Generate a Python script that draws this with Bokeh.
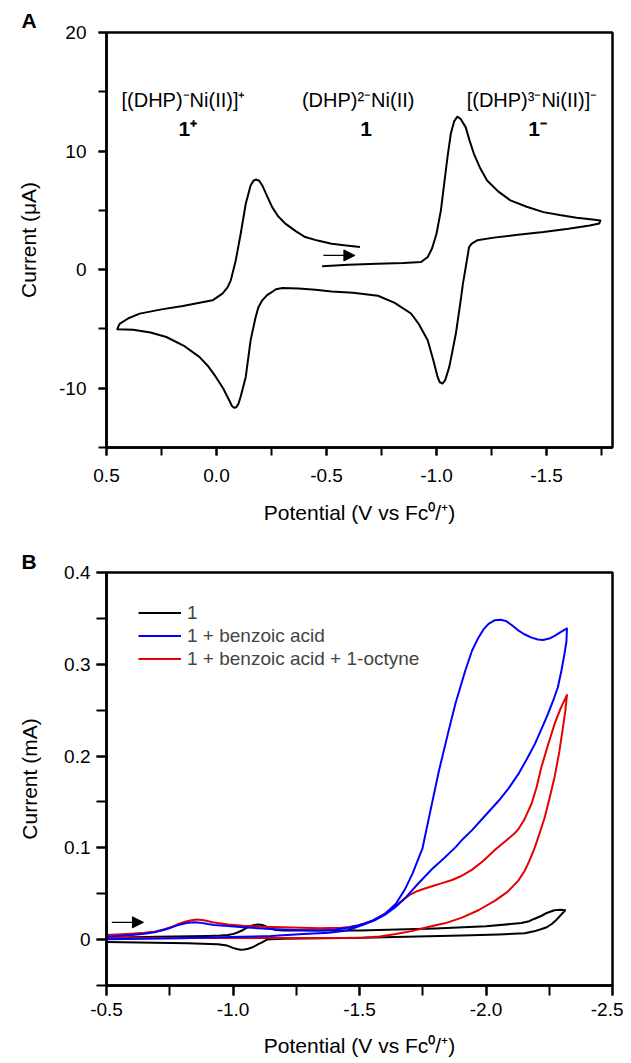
from bokeh.plotting import figure
from bokeh.layouts import column
from bokeh.models import (Range1d, SingleIntervalTicker, NumeralTickFormatter, Label,
                          Arrow, NormalHead, Legend, LegendItem)
from bokeh.embed import file_html
from bokeh.resources import INLINE

FONT = "Liberation Sans"

# ---------------- Panel A data: CV of compound 1 (uA vs V) ----------------
a_potential = [-0.48, -0.60, -0.73, -0.85, -0.93, -0.96, -0.98, -1.00, -1.02, -1.035, -1.05, -1.065,
               -1.08, -1.095, -1.11, -1.133, -1.15, -1.17, -1.20, -1.23, -1.28, -1.336, -1.41, -1.486,
               -1.56, -1.637, -1.70, -1.745, -1.74, -1.697, -1.60, -1.486, -1.37, -1.261, -1.185, -1.16,
               -1.148, -1.14, -1.133, -1.12, -1.11, -1.088, -1.07, -1.058, -1.04, -1.028, -1.015, -1.005,
               -0.985, -0.96, -0.92, -0.884, -0.81, -0.734, -0.62, -0.523, -0.45, -0.373, -0.30, -0.27,
               -0.253, -0.23, -0.208, -0.19, -0.178, -0.155, -0.133, -0.11, -0.10, -0.09, -0.08, -0.07,
               -0.06, -0.03, 0.003, 0.04, 0.078, 0.15, 0.228, 0.30, 0.379, 0.451, 0.445, 0.439, 0.40,
               0.349, 0.25, 0.153, 0.018, -0.027, -0.05, -0.065, -0.0875, -0.11, -0.133, -0.155, -0.168,
               -0.18, -0.194, -0.208, -0.23, -0.253, -0.28, -0.313, -0.36, -0.403, -0.46, -0.523, -0.59,
               -0.652]
a_current = [0.28, 0.42, 0.50, 0.56, 0.64, 1.06, 1.8, 3.03, 5.0, 7.25, 9.5, 11.46,
             12.5, 12.9, 12.7, 12.0, 10.9, 9.77, 8.5, 7.52, 6.6, 5.84, 5.3, 4.85,
             4.6, 4.38, 4.25, 4.15, 3.9, 3.73, 3.45, 3.17, 2.95, 2.7, 2.47, 2.2,
             1.9, 1.0, 0.22, -1.2, -2.59, -5.39, -7.1, -8.2, -9.3, -9.6, -9.5, -9.05,
             -7.6, -5.96, -4.6, -3.7, -2.8, -2.2, -1.95, -1.85, -1.7, -1.6, -1.55, -1.65,
             -1.88, -2.15, -2.59, -3.2, -3.99, -5.96, -9.05, -10.7, -11.3, -11.6, -11.65, -11.5,
             -11.1, -10.0, -9.05, -8.1, -7.36, -6.4, -5.68, -5.3, -5.06, -5.03, -4.75, -4.55, -4.1,
             -3.71, -3.35, -3.06, -2.59, -2.02, -1.5, -0.9, 0.78, 3.03, 5.56, 7.1, 7.5,
             7.6, 7.5, 7.1, 6.2, 5.27, 4.5, 3.88, 3.25, 2.75, 2.45, 2.19, 2.03,
             1.9]

a_species = ["[(DHP)\u207bNi(II)]\u207a", "(DHP)\u00b2\u207bNi(II)", "[(DHP)\u00b3\u207bNi(II)]\u207b"]
a_numbers = ["1\u207a", "1", "1\u207b"]

# ---------------- Panel B data (mA vs V) ----------------
b_labels = ["1", "1 + benzoic acid", "1 + benzoic acid + 1-octyne"]

black_potential = [-0.50, -0.70, -0.90, -0.95, -0.98, -1.00, -1.02, -1.04, -1.055, -1.07, -1.085,
                   -1.10, -1.115, -1.13, -1.147, -1.17, -1.20, -1.50, -1.80, -2.00, -2.14, -2.17,
                   -2.19, -2.22, -2.24, -2.27, -2.295, -2.313, -2.30, -2.28, -2.26, -2.24, -2.22,
                   -2.19, -2.153, -2.05, -1.905, -1.51, -1.20, -1.15, -1.134, -1.115, -1.10, -1.08,
                   -1.06, -1.045, -1.03, -1.015, -1.00, -0.977, -0.94, -0.82, -0.50]
black_current = [0.002, 0.003, 0.004, 0.0045, 0.005, 0.006, 0.008, 0.0105, 0.013, 0.0148, 0.016,
                 0.0165, 0.016, 0.0145, 0.012, 0.0105, 0.0098, 0.0098, 0.012, 0.0145, 0.018, 0.020,
                 0.0225, 0.026, 0.029, 0.032, 0.0325, 0.032, 0.028, 0.022, 0.017, 0.0135, 0.0116,
                 0.009, 0.0069, 0.0055, 0.0044, 0.0019, 0.001, 0.0005, 0.0, -0.003, -0.005, -0.008,
                 -0.010, -0.0108, -0.011, -0.0103, -0.009, -0.0065, -0.005, -0.004, -0.0025]

blue_potential = [-0.50, -0.60, -0.65, -0.69, -0.725, -0.755, -0.78, -0.80, -0.825, -0.846, -0.87,
                  -0.90, -0.925, -0.98, -1.04, -1.147, -1.25, -1.343, -1.40, -1.43, -1.46, -1.487,
                  -1.52, -1.552, -1.60, -1.644, -1.68, -1.709, -1.749, -1.78, -1.814, -1.85, -1.879,
                  -1.918, -1.945, -1.97, -1.99, -2.01, -2.035, -2.059, -2.08, -2.10, -2.127, -2.15,
                  -2.18, -2.205, -2.225, -2.25, -2.271, -2.295, -2.32, -2.318, -2.31, -2.298, -2.284,
                  -2.265, -2.245, -2.22, -2.193, -2.16, -2.127, -2.09, -2.049, -2.00, -1.944, -1.91,
                  -1.879, -1.835, -1.787, -1.735, -1.683, -1.64, -1.60, -1.56, -1.514, -1.45, -1.38,
                  -1.278, -1.15, -1.03, -0.80, -0.50]
blue_current = [0.003, 0.005, 0.0065, 0.008, 0.0105, 0.013, 0.0155, 0.017, 0.0185, 0.019, 0.0185,
                0.017, 0.016, 0.0147, 0.0134, 0.0116, 0.0105, 0.0098, 0.0108, 0.012, 0.0133, 0.015,
                0.0175, 0.0207, 0.028, 0.039, 0.055, 0.0716, 0.0995, 0.14, 0.184, 0.225, 0.257,
                0.293, 0.315, 0.329, 0.338, 0.344, 0.348, 0.3486, 0.347, 0.343, 0.337, 0.333,
                0.329, 0.327, 0.3265, 0.328, 0.331, 0.335, 0.339, 0.325, 0.311, 0.293, 0.275,
                0.26, 0.246, 0.23, 0.213, 0.196, 0.180, 0.165, 0.151, 0.136, 0.119, 0.11,
                0.1005, 0.089, 0.077, 0.062, 0.046, 0.035, 0.027, 0.021, 0.016, 0.010, 0.0075,
                0.006, 0.004, 0.003, 0.0015, 0.0005]

red_potential = [-0.50, -0.60, -0.65, -0.69, -0.725, -0.76, -0.785, -0.81, -0.835, -0.857, -0.885,
                 -0.92, -0.98, -1.04, -1.12, -1.20, -1.343, -1.43, -1.46, -1.487, -1.52, -1.552,
                 -1.60, -1.644, -1.675, -1.70, -1.73, -1.761, -1.79, -1.82, -1.866, -1.90, -1.944,
                 -1.99, -2.036, -2.08, -2.11, -2.127, -2.15, -2.18, -2.20, -2.219, -2.245, -2.271,
                 -2.295, -2.32, -2.314, -2.304, -2.29, -2.271, -2.252, -2.232, -2.212, -2.193, -2.17,
                 -2.153, -2.127, -2.085, -2.036, -1.97, -1.905, -1.84, -1.775, -1.71, -1.644, -1.58,
                 -1.513, -1.30, -1.00, -0.50]
red_current = [0.005, 0.0065, 0.0075, 0.0087, 0.011, 0.014, 0.017, 0.0195, 0.021, 0.022, 0.021,
               0.019, 0.0165, 0.015, 0.014, 0.0135, 0.0123, 0.013, 0.0138, 0.015, 0.0175, 0.021,
               0.028, 0.037, 0.044, 0.049, 0.053, 0.056, 0.0585, 0.061, 0.065, 0.069, 0.076,
               0.086, 0.098, 0.108, 0.115, 0.12, 0.13, 0.148, 0.166, 0.188, 0.212, 0.235,
               0.252, 0.2666, 0.25, 0.231, 0.205, 0.177, 0.155, 0.133, 0.116, 0.1005, 0.085,
               0.075, 0.064, 0.052, 0.0425, 0.032, 0.024, 0.018, 0.014, 0.0095, 0.006, 0.0035,
               0.002, 0.0018, 0.0018, 0.0018]


def style(p, tick_out, ylab_standoff, xlab_standoff, ytick_standoff, xtick_standoff):
    p.xgrid.visible = False
    p.ygrid.visible = False
    p.outline_line_color = "black"
    p.outline_line_width = 2.5
    p.background_fill_color = "white"
    p.border_fill_color = "white"
    for ax in (p.xaxis[0], p.yaxis[0]):
        ax.axis_line_width = 2.5
        ax.major_tick_line_width = 2
        ax.minor_tick_line_width = 2
        ax.major_tick_in = 0
        ax.minor_tick_in = 0
        ax.major_tick_out = tick_out
        ax.minor_tick_out = tick_out
        ax.major_label_text_font = FONT
        ax.major_label_text_font_size = "19px"
        ax.major_label_text_color = "black"
        ax.axis_label_text_font = FONT
        ax.axis_label_text_font_size = "21px"
        ax.axis_label_text_font_style = "normal"
        ax.axis_label_text_color = "black"
    p.yaxis[0].axis_label_standoff = ylab_standoff
    p.xaxis[0].axis_label_standoff = xlab_standoff
    p.yaxis[0].major_label_standoff = ytick_standoff
    p.xaxis[0].major_label_standoff = xtick_standoff


def panel_letter(p, letter, offset, standoff):
    p.title.text = letter
    p.title.align = "left"
    p.title.offset = offset
    p.title.standoff = standoff
    p.title.text_font = FONT
    p.title.text_font_size = "21px"
    p.title.text_font_style = "bold"
    p.title.text_color = "black"


# ---------------- Panel A ----------------
pA = figure(width=623, height=536, output_backend="svg", toolbar_location=None,
            x_range=Range1d(0.5, -1.8), y_range=Range1d(-15, 20),
            min_border_left=106, min_border_right=7, min_border_top=32, min_border_bottom=89)
pA.xaxis.axis_label = "Potential (V vs Fc\u2070/\u207a)"
pA.yaxis.axis_label = "Current (\u03bcA)"
pA.xaxis.ticker = SingleIntervalTicker(interval=0.5, num_minor_ticks=2)
pA.yaxis.ticker = SingleIntervalTicker(interval=10, num_minor_ticks=2)
pA.xaxis.formatter = NumeralTickFormatter(format="0.0")
pA.yaxis.formatter = NumeralTickFormatter(format="0")
style(pA, 8, 16, 16, 12, 13)
panel_letter(pA, "A", -85, 2)

pA.line(a_potential, a_current, line_width=2, color="black", line_join="round")

pA.add_layout(Arrow(end=NormalHead(size=11, fill_color="black", line_color="black"),
                    x_start=-0.486, y_start=1.2, x_end=-0.629, y_end=1.2,
                    line_width=1.2, line_color="black"))

for txt, xx in zip(a_species, [0.150, -0.644, -1.434]):
    pA.add_layout(Label(x=xx, y=14.3, text=txt, text_font=FONT, text_font_size="20px",
                        text_align="center", text_baseline="middle", text_color="black"))
for txt, xx in zip(a_numbers, [0.130, -0.68, -1.46]):
    pA.add_layout(Label(x=xx, y=11.9, text=txt, text_font=FONT, text_font_size="21px",
                        text_font_style="bold", text_align="center", text_baseline="middle",
                        text_color="black"))

# ---------------- Panel B ----------------
pB = figure(width=623, height=527, output_backend="svg", toolbar_location=None,
            x_range=Range1d(-0.5, -2.5), y_range=Range1d(-0.05, 0.4),
            min_border_left=102, min_border_right=11, min_border_top=36, min_border_bottom=78)
pB.xaxis.axis_label = "Potential (V vs Fc\u2070/\u207a)"
pB.yaxis.axis_label = "Current (mA)"
pB.xaxis.ticker = SingleIntervalTicker(interval=0.5, num_minor_ticks=2)
pB.yaxis.ticker = SingleIntervalTicker(interval=0.1, num_minor_ticks=2)
pB.xaxis.formatter = NumeralTickFormatter(format="0.0")
pB.yaxis.formatter = NumeralTickFormatter(format="0.[0]")
style(pB, 10, 20, 15, 6, 7)
panel_letter(pB, "B", -85, 0)

rb = pB.line(black_potential, black_current, line_width=2, color="black", line_join="round")
rr = pB.line(red_potential, red_current, line_width=2, color="#E60000", line_join="round")
rbl = pB.line(blue_potential, blue_current, line_width=2, color="#0000FF", line_join="round")

legend = Legend(items=[LegendItem(label=b_labels[0], renderers=[rb]),
                       LegendItem(label=b_labels[1], renderers=[rbl]),
                       LegendItem(label=b_labels[2], renderers=[rr])],
                location=(32, 315), padding=0, margin=0, spacing=0,
                glyph_width=43, glyph_height=23, label_height=23, label_standoff=6,
                label_text_font=FONT, label_text_font_size="19px",
                background_fill_alpha=0, border_line_alpha=0)
pB.add_layout(legend)

pB.add_layout(Arrow(end=NormalHead(size=11, fill_color="black", line_color="black"),
                    x_start=-0.521, y_start=0.0188, x_end=-0.646, y_end=0.0188,
                    line_width=1.2, line_color="black"))

layout = column(pA, pB, spacing=0)
open("out.html", "w").write(file_html(layout, INLINE))
